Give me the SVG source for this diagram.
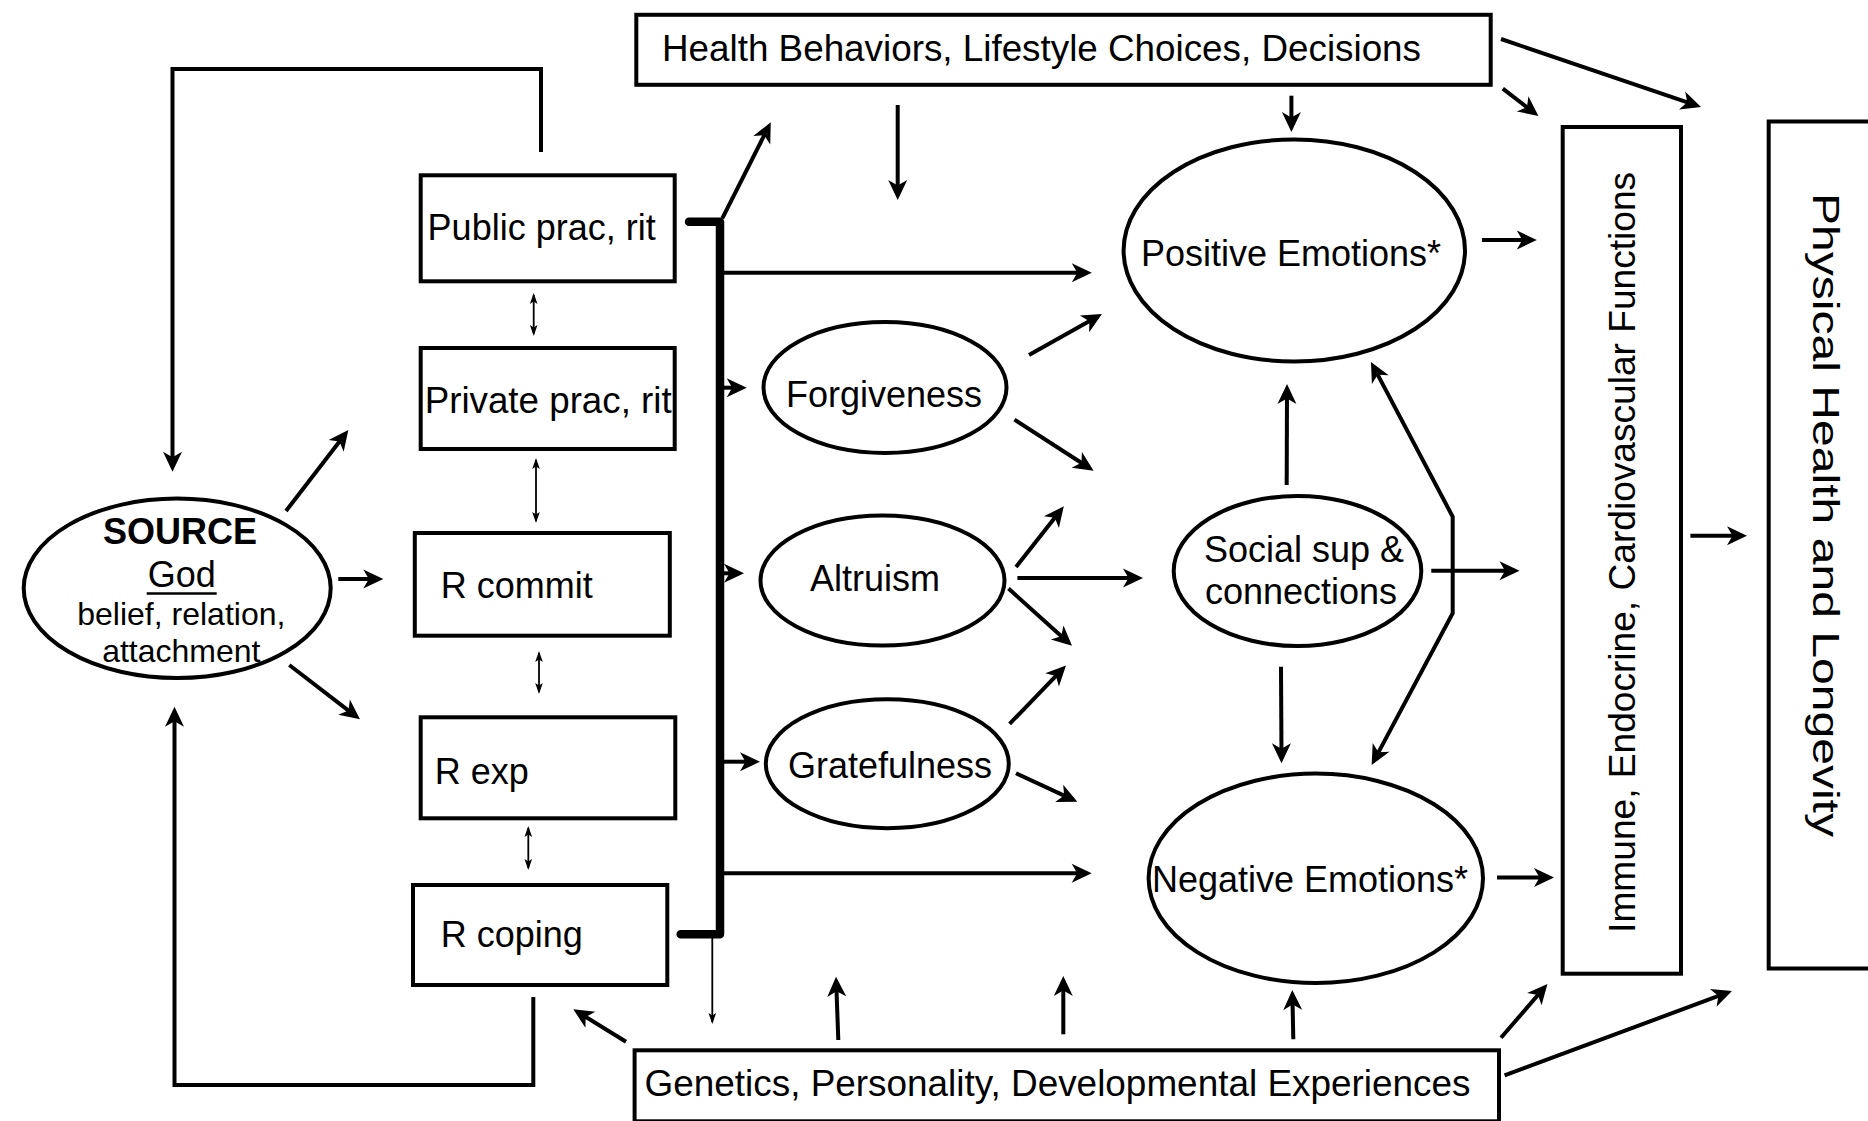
<svg xmlns="http://www.w3.org/2000/svg" width="1868" height="1121" viewBox="0 0 1868 1121">
  <style>
    .box { fill: #fff; stroke: #000; stroke-width: 4; }
    .ell { fill: #fff; stroke: #000; stroke-width: 4; }
    .lbl { font-family: "Liberation Sans", Arial, sans-serif; font-size: 36px; fill: #000; }
    .sm { font-size: 32px; }
    .edge { fill: none; stroke: #000; stroke-width: 4; marker-end: url(#ah); }
    .plain { fill: none; stroke: #000; stroke-width: 4; }
    .thin { fill: none; stroke: #000; stroke-width: 1.8; }
  </style>
  <defs>
    <marker id="ah" viewBox="-16 -10 22 20" refX="0" refY="0" markerWidth="22" markerHeight="20" markerUnits="userSpaceOnUse" orient="auto-start-reverse">
      <path d="M5,0 L-15,-9.5 L-9.5,0 L-15,9.5 Z" fill="#000"/>
    </marker>
    <marker id="ahs" viewBox="-11 -5 14 10" refX="0" refY="0" markerWidth="14" markerHeight="10" markerUnits="userSpaceOnUse" orient="auto-start-reverse">
      <path d="M2,0 L-9,-3.8 L-6.5,0 L-9,3.8 Z" fill="#000"/>
    </marker>
  </defs>

  <rect width="1868" height="1121" fill="#fff"/>

  <!-- connectors -->
  <g id="connectors">
    <!-- feedback loops back to SOURCE -->
    <path class="edge" d="M541,152 L541,69 L172.5,69 L172.5,466.7"/>
    <path class="edge" d="M533.3,997 L533.3,1085 L174.5,1085 L174.5,711.7"/>
    <!-- SOURCE outputs -->
    <path class="edge" d="M286,511 L345.3,434"/>
    <path class="edge" d="M338.3,579 L378.3,579"/>
    <path class="edge" d="M289.3,665 L356,716.3"/>
    <!-- links between religious practice boxes -->
    <path class="thin" d="M533.7,295 L533.7,334" marker-start="url(#ahs)" marker-end="url(#ahs)"/>
    <path class="thin" d="M536,460 L536,521" marker-start="url(#ahs)" marker-end="url(#ahs)"/>
    <path class="thin" d="M539,653 L539,692" marker-start="url(#ahs)" marker-end="url(#ahs)"/>
    <path class="thin" d="M528.3,828 L528.3,868" marker-start="url(#ahs)" marker-end="url(#ahs)"/>
    <!-- collecting bar -->
    <path d="M689,221.7 L720,221.7 L720,934.3 L680.7,934.3" fill="none" stroke="#000" stroke-width="8.5" stroke-linecap="round" stroke-linejoin="round"/>
    <path class="thin" d="M712.3,938 L712.3,1022" marker-end="url(#ahs)"/>
    <path class="edge" d="M722.3,218.3 L768.5,126.8"/>
    <path class="edge" d="M722,272.7 L1086.8,272.7"/>
    <path class="edge" d="M724,387.7 L741.7,387.7"/>
    <path class="edge" d="M724,573.3 L739,573.3"/>
    <path class="edge" d="M724,761.7 L755,761.7"/>
    <path class="edge" d="M722,873.3 L1086.7,873.3"/>
    <!-- from health behaviors -->
    <path class="edge" d="M897.7,105 L897.7,195"/>
    <path class="edge" d="M1291.4,95.7 L1291.4,127"/>
    <path class="edge" d="M1502.8,88.6 L1534.5,113"/>
    <path class="edge" d="M1501,39 L1696.3,105.4"/>
    <!-- virtues to emotions / social support -->
    <path class="edge" d="M1029,355 L1097.6,316.5"/>
    <path class="edge" d="M1014.4,419.6 L1089.4,468"/>
    <path class="edge" d="M1016,567 L1060.7,510.3"/>
    <path class="edge" d="M1017.4,578 L1138,578"/>
    <path class="edge" d="M1008.5,588.6 L1068.3,642.5"/>
    <path class="edge" d="M1009.6,723.9 L1062.5,669.1"/>
    <path class="edge" d="M1016,773.3 L1072.8,799.6"/>
    <!-- social support links -->
    <path class="edge" d="M1286.7,485 L1287,389"/>
    <path class="edge" d="M1281,666.7 L1281.5,758.3"/>
    <path class="edge" d="M1373.3,366.4 L1452.7,516.7 L1452.7,613.3 L1374,760.6" marker-start="url(#ah)"/>
    <path class="edge" d="M1431.3,570.7 L1514.5,570.7"/>
    <!-- into physiology and health -->
    <path class="edge" d="M1482,240 L1531.8,240"/>
    <path class="edge" d="M1497,877.5 L1549,877.5"/>
    <path class="edge" d="M1690.4,535.7 L1742,535.7"/>
    <!-- from genetics, personality -->
    <path class="edge" d="M626,1041.7 L577.6,1011.9"/>
    <path class="edge" d="M838.3,1040 L836.2,981.7"/>
    <path class="edge" d="M1063.3,1034.3 L1063.3,981"/>
    <path class="edge" d="M1293.3,1039.3 L1292.4,995"/>
    <path class="edge" d="M1501,1037.7 L1544.2,987.8"/>
    <path class="edge" d="M1504.6,1075.3 L1727.3,992.7"/>
  </g>

  <!-- nodes -->
  <g id="health-behaviors">
    <rect class="box" x="636.3" y="14.8" width="854.4" height="70"/>
    <text class="lbl" x="662" y="61" textLength="759" lengthAdjust="spacingAndGlyphs">Health Behaviors, Lifestyle Choices, Decisions</text>
  </g>
  <g id="source">
    <ellipse class="ell" cx="177.2" cy="588.3" rx="153.5" ry="89.7"/>
    <text class="lbl" x="180" y="544" text-anchor="middle" font-weight="bold">SOURCE</text>
    <text class="lbl" x="181.7" y="586.7" text-anchor="middle" font-size="35px">God</text>
    <line x1="146.7" y1="593.5" x2="216.7" y2="593.5" stroke="#000" stroke-width="2.6"/>
    <text class="lbl sm" x="181.3" y="625" text-anchor="middle">belief, relation,</text>
    <text class="lbl sm" x="181.3" y="661.7" text-anchor="middle">attachment</text>
  </g>
  <g id="public-prac">
    <rect class="box" x="420.7" y="175.3" width="254" height="106"/>
    <text class="lbl" x="427.6" y="240">Public prac, rit</text>
  </g>
  <g id="private-prac">
    <rect class="box" x="420.7" y="348" width="254" height="101"/>
    <text class="lbl" x="424.7" y="412.5" textLength="247" lengthAdjust="spacingAndGlyphs">Private prac, rit</text>
  </g>
  <g id="r-commit">
    <rect class="box" x="414.8" y="533" width="255" height="102.7"/>
    <text class="lbl" x="440.8" y="597.6">R commit</text>
  </g>
  <g id="r-exp">
    <rect class="box" x="420.7" y="717.3" width="254.6" height="101"/>
    <text class="lbl" x="434.8" y="783.5">R exp</text>
  </g>
  <g id="r-coping">
    <rect class="box" x="413" y="885" width="254.3" height="100"/>
    <text class="lbl" x="440.7" y="946.5">R coping</text>
  </g>
  <g id="forgiveness">
    <ellipse class="ell" cx="885" cy="387.5" rx="121.5" ry="65.5"/>
    <text class="lbl" x="884" y="406.7" text-anchor="middle">Forgiveness</text>
  </g>
  <g id="altruism">
    <ellipse class="ell" cx="882.5" cy="580.5" rx="122" ry="65"/>
    <text class="lbl" x="875" y="590.7" text-anchor="middle">Altruism</text>
  </g>
  <g id="gratefulness">
    <ellipse class="ell" cx="887.3" cy="763.7" rx="121.5" ry="64.5"/>
    <text class="lbl" x="890" y="778.3" text-anchor="middle">Gratefulness</text>
  </g>
  <g id="positive-emotions">
    <ellipse class="ell" cx="1294.3" cy="250.5" rx="170.7" ry="111"/>
    <text class="lbl" x="1291" y="266" text-anchor="middle">Positive Emotions*</text>
  </g>
  <g id="social-support">
    <ellipse class="ell" cx="1297.5" cy="571" rx="123.8" ry="75"/>
    <text class="lbl" x="1304" y="561.7" text-anchor="middle">Social sup &amp;</text>
    <text class="lbl" x="1301" y="604" text-anchor="middle">connections</text>
  </g>
  <g id="negative-emotions">
    <ellipse class="ell" cx="1315.8" cy="878.3" rx="167.2" ry="104.7"/>
    <text class="lbl" x="1310" y="891.7" text-anchor="middle">Negative Emotions*</text>
  </g>
  <g id="immune-functions">
    <rect class="box" x="1562.7" y="127" width="118.3" height="846.7"/>
    <text class="lbl" transform="translate(1635,552.4) rotate(-90)" text-anchor="middle" font-size="37px" textLength="761" lengthAdjust="spacingAndGlyphs">Immune, Endocrine, Cardiovascular Functions</text>
  </g>
  <g id="physical-health">
    <rect class="box" x="1768.7" y="121.5" width="140" height="847"/>
    <text class="lbl" transform="translate(1813,515) rotate(90)" text-anchor="middle" font-size="48px" textLength="644" lengthAdjust="spacingAndGlyphs">Physical Health and Longevity</text>
  </g>
  <g id="genetics">
    <rect class="box" x="634.6" y="1050.3" width="864.4" height="71"/>
    <text class="lbl" x="644.5" y="1096" textLength="826" lengthAdjust="spacingAndGlyphs">Genetics, Personality, Developmental Experiences</text>
  </g>
</svg>
